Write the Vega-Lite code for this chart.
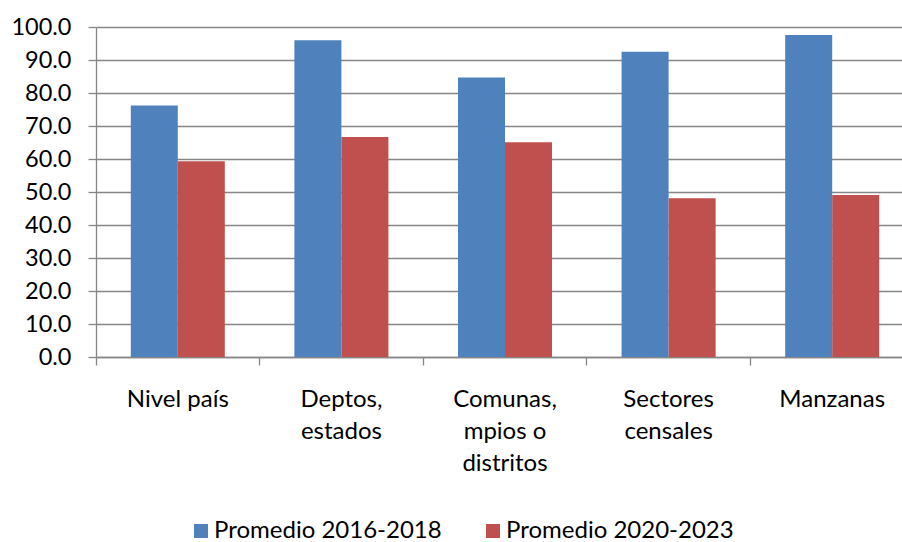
{
  "$schema": "https://vega.github.io/schema/vega-lite/v6.json",
  "autosize": {"type": "none"},
  "padding": {"left": 96, "top": 27, "right": 0, "bottom": 185},
  "width": 806,
  "height": 330,
  "config": {
    "view": {"stroke": null},
    "font": "Lato",
    "axis": {"labelFont": "Lato", "labelColor": "#000000"},
    "legend": {"labelFont": "Lato", "labelColor": "#000000"}
  },
  "data": {
    "values": [
      {"nivel": "Nivel país", "serie": "Promedio 2016-2018", "valor": 76.2},
      {"nivel": "Nivel país", "serie": "Promedio 2020-2023", "valor": 59.3},
      {"nivel": "Deptos, estados", "serie": "Promedio 2016-2018", "valor": 96.0},
      {"nivel": "Deptos, estados", "serie": "Promedio 2020-2023", "valor": 66.7},
      {"nivel": "Comunas, mpios o distritos", "serie": "Promedio 2016-2018", "valor": 84.7},
      {"nivel": "Comunas, mpios o distritos", "serie": "Promedio 2020-2023", "valor": 65.1},
      {"nivel": "Sectores censales", "serie": "Promedio 2016-2018", "valor": 92.5},
      {"nivel": "Sectores censales", "serie": "Promedio 2020-2023", "valor": 48.1},
      {"nivel": "Manzanas", "serie": "Promedio 2016-2018", "valor": 97.6},
      {"nivel": "Manzanas", "serie": "Promedio 2020-2023", "valor": 49.1}
    ]
  },
  "resolve": {"axis": {"x": "independent"}},
  "layer": [
    {
      "mark": {"type": "bar"},
      "encoding": {
        "x": {
          "field": "nivel", "type": "nominal", "sort": null,
          "scale": {"paddingInner": 0, "paddingOuter": 0, "range": [0, 818]},
          "axis": {
            "orient": "bottom", "title": null, "ticks": false, "domain": false,
            "labelAngle": 0, "labelFontSize": 24, "labelPadding": 30,
            "labelLineHeight": 32, "labelBaseline": "top", "labelLimit": 300,
            "labelExpr": "datum.label == 'Deptos, estados' ? ['Deptos,', 'estados'] : datum.label == 'Comunas, mpios o distritos' ? ['Comunas,', 'mpios o', 'distritos'] : datum.label == 'Sectores censales' ? ['Sectores', 'censales'] : datum.label"
          }
        },
        "xOffset": {
          "field": "serie", "type": "nominal",
          "scale": {"paddingInner": 0, "paddingOuter": 0.74}
        },
        "y": {
          "field": "valor", "type": "quantitative",
          "scale": {"domain": [0, 100], "nice": false},
          "axis": {
            "title": null, "values": [0, 10, 20, 30, 40, 50, 60, 70, 80, 90, 100],
            "format": ".1f", "grid": true, "gridColor": "#868686", "gridWidth": 1.3,
            "domainColor": "#868686", "domainWidth": 1.3, "tickColor": "#868686",
            "tickWidth": 1.3, "tickSize": 8, "labelFontSize": 23.5, "labelPadding": 17
          }
        },
        "color": {
          "field": "serie", "type": "nominal",
          "scale": {"domain": ["Promedio 2016-2018", "Promedio 2020-2023"], "range": ["#4F81BD", "#C0504D"]},
          "legend": {
            "title": null, "orient": "none", "legendX": 93, "legendY": 492,
            "direction": "horizontal", "symbolType": "square", "symbolSize": 196,
            "symbolStrokeWidth": 0, "labelFontSize": 24, "labelOffset": 1,
            "columnPadding": 39, "labelLimit": 400
          }
        }
      }
    },
    {
      "mark": {"type": "point", "opacity": 0},
      "encoding": {
        "x": {
          "field": "nivel", "type": "nominal", "sort": null,
          "axis": {
            "orient": "bottom", "title": null, "labels": false, "bandPosition": 0,
            "domainColor": "#868686", "domainWidth": 1.3, "tickColor": "#868686",
            "tickWidth": 1.3, "tickSize": 8
          }
        }
      }
    }
  ]
}
